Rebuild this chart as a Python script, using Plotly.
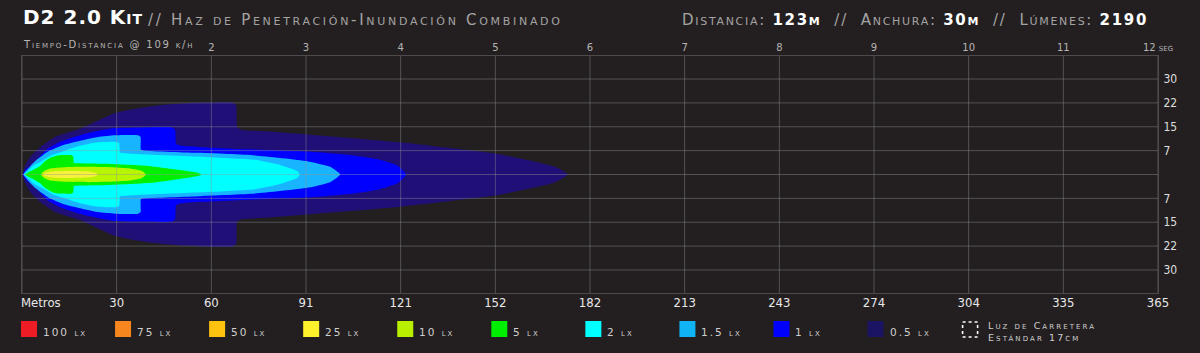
import plotly.graph_objects as go

# ---------------- canvas ----------------
W, H = 1200, 353
ML, MR, MT, MB = 22, 42, 56, 60
PW, PH = W - ML - MR, H - MT - MB

# ---------------- data ----------------
X_MAX = 365          # metres shown on the bottom axis
Y_HALF = 37.25       # lateral half-range in metres

distance_labels = ['30', '60', '91', '121', '152', '182', '213', '243', '274', '304', '335', '365']
time_values = [2, 3, 4, 5, 6, 7, 8, 9, 10, 11, 12]
time_labels = ['2', '3', '4', '5', '6', '7', '8', '9', '10', '11', '12 seg']
time_max = 12
lateral_values = [30, 22.5, 15, 7.5, 0, -7.5, -15, -22.5, -30]
lateral_labels = ['30', '22', '15', '7', '', '7', '15', '22', '30']

# isolux outlines: distance (m) and half width (m)
lux05_dist = [0.2, 1.0, 2.6, 5.8, 10.6, 19.3, 29.9, 37.9, 45.9, 57.2, 67.5, 68.8, 69.1, 70.4, 79.7, 91.6, 105.4, 121.5, 137.5, 152.0, 164.2, 171.3, 175.4]
lux05_half = [0.0, 2.7, 5.5, 8.6, 11.8, 14.6, 19.3, 20.9, 21.9, 22.6, 22.7, 21.8, 14.9, 14.1, 13.5, 12.6, 11.5, 10.1, 8.3, 6.6, 4.2, 2.4, 0.0]

lux1_dist = [0.3, 1.3, 3.1, 5.8, 8.5, 12.9, 19.2, 25.1, 29.9, 37.9, 48.2, 49.2, 49.5, 50.8, 57.2, 73.3, 91.6, 105.4, 115.0, 120.8, 123.4]
lux1_half = [0.0, 1.7, 3.1, 5.8, 8.3, 10.5, 12.5, 13.8, 14.6, 14.8, 14.8, 14.0, 9.7, 9.1, 8.6, 7.9, 7.2, 6.1, 4.6, 2.7, 0.0]

lux15_dist = [0.5, 1.5, 4.2, 8.4, 13.8, 24.4, 29.9, 37.3, 38.1, 38.2, 39.5, 57.2, 74.9, 91.6, 99.0, 102.2]
lux15_half = [0.0, 1.4, 4.2, 7.2, 9.4, 11.8, 12.3, 12.3, 11.8, 7.8, 7.5, 6.8, 6.0, 4.2, 2.4, 0.0]

lux2_dist = [0.6, 1.9, 3.5, 6.3, 9.6, 13.8, 18.6, 24.4, 30.2, 31.2, 31.5, 32.8, 57.2, 74.9, 82.9, 88.4, 89.3]
lux2_half = [0.0, 1.1, 2.7, 4.2, 6.1, 7.5, 9.0, 10.1, 10.3, 9.9, 6.9, 6.7, 5.6, 4.6, 3.0, 1.1, 0.0]

lux5_dist = [1.0, 2.2, 3.5, 5.8, 7.4, 9.6, 11.6, 16.1, 16.5, 16.7, 18.0, 28.3, 40.5, 50.8, 56.5, 57.8]
lux5_half = [0.0, 0.8, 1.4, 2.7, 4.2, 5.5, 6.0, 6.0, 5.5, 3.6, 3.5, 3.3, 2.7, 1.4, 0.5, 0.0]

lux10_dist = [6.1, 7.1, 9.0, 13.8, 21.8, 29.9, 34.7, 38.6, 39.8]
lux10_half = [0.0, 1.1, 1.9, 2.3, 2.4, 2.2, 1.9, 1.1, 0.0]

lux25_dist = [6.7, 7.7, 10.6, 17.0, 21.8, 23.8, 24.3]
lux25_half = [0.0, 0.6, 1.0, 1.1, 0.9, 0.5, 0.0]

beam_levels = [
    ('0.5 lx', lux05_dist, lux05_half, '#1f0f76'),
    ('1 lx', lux1_dist, lux1_half, '#0000ff'),
    ('1.5 lx', lux15_dist, lux15_half, '#18b4ff'),
    ('2 lx', lux2_dist, lux2_half, '#00ffff'),
    ('5 lx', lux5_dist, lux5_half, '#00f000'),
    ('10 lx', lux10_dist, lux10_half, '#b8f500'),
    ('25 lx', lux25_dist, lux25_half, '#f6f23c'),
]

legend_labels = ['100 lx', '75 lx', '50 lx', '25 lx', '10 lx', '5 lx', '2 lx', '1.5 lx', '1 lx', '0.5 lx']
legend_colors = ['#ee1c25', '#f7861f', '#ffc30f', '#fff22d', '#b8f000', '#00ee00', '#00ffff', '#10b4f4', '#0000ff', '#1b1464']
road_label = 'Luz de Carretera<br>Estándar 17cm'

# ---------------- styles ----------------
BG = '#231f20'
GRID = 'rgba(150,150,150,0.42)'
WIDE = 'DejaVu Sans, Verdana, sans-serif'
NARROW = 'Liberation Sans Narrow, DejaVu Sans Condensed, Roboto Condensed, Arial Narrow, sans-serif'


def px_x(px):
    return (px - ML) / PW


def px_y(py):
    return (H - MB - py) / PH


fig = go.Figure()

for name, d, h, col in beam_levels:
    # upper edge from the far tip back to the nose, then the lower edge out again
    xs = list(d[::-1]) + list(d[1:])
    ys = list(h[::-1]) + [-v for v in h[1:]]
    fig.add_trace(go.Scatter(
        x=xs, y=ys, mode='lines', fill='toself', fillcolor=col,
        line=dict(width=0, color=col, shape='spline', smoothing=0.5),
        name=name, showlegend=False, hoverinfo='skip'))

# invisible trace so the top (time) axis is drawn
fig.add_trace(go.Scatter(x=[time_values[0]], y=[0], xaxis='x2', mode='markers',
                         marker=dict(opacity=0), showlegend=False, hoverinfo='skip'))

shapes = []
step = X_MAX / len(distance_labels)
for k in range(len(distance_labels) + 1):
    shapes.append(dict(type='line', xref='x', yref='paper', x0=k * step, x1=k * step, y0=0, y1=1,
                       line=dict(color=GRID, width=1), layer='above'))
for v in lateral_values:
    shapes.append(dict(type='line', xref='paper', yref='y', x0=0, x1=1, y0=v, y1=v,
                       line=dict(color=GRID, width=1), layer='above'))

annotations = []
# legend
SQ = 16
SQ_TOP, SQ_BOT = 321, 337
for i, (lab, col) in enumerate(zip(legend_labels, legend_colors)):
    left = 21 + 94.06 * i
    shapes.append(dict(type='rect', xref='paper', yref='paper',
                       x0=px_x(left), x1=px_x(left + SQ), y0=px_y(SQ_BOT), y1=px_y(SQ_TOP),
                       fillcolor=col, line=dict(width=0)))
    annotations.append(dict(text=f"<span style='letter-spacing:2px'>{lab}</span>",
                            xref='paper', yref='paper', x=px_x(left + SQ + 4), y=px_y(332),
                            xanchor='left', yanchor='middle', showarrow=False,
                            font=dict(family=WIDE, size=10.5, color='#cfcfcf', variant='small-caps')))
left = 21 + 94.06 * len(legend_labels)
shapes.append(dict(type='rect', xref='paper', yref='paper',
                   x0=px_x(left + 1), x1=px_x(left + SQ), y0=px_y(SQ_BOT), y1=px_y(SQ_TOP + 1),
                   fillcolor='rgba(0,0,0,0)', line=dict(width=1.6, color='#ffffff', dash='dot')))
annotations.append(dict(text=f"<span style='letter-spacing:2.1px'>{road_label}</span>",
                        xref='paper', yref='paper', x=px_x(left + SQ + 8), y=px_y(331),
                        xanchor='left', yanchor='middle', showarrow=False, align='left',
                        font=dict(family=WIDE, size=9.5, color='#cfcfcf', variant='small-caps')))

# header
annotations.append(dict(text="<b><span style='letter-spacing:1px'>D2 2.0 Kit</span></b>",
                        xref='paper', yref='paper', x=px_x(21), y=px_y(17), xanchor='left', yanchor='middle',
                        showarrow=False, font=dict(family=WIDE, size=20, color='#ffffff', variant='small-caps')))
annotations.append(dict(text="<span style='letter-spacing:2.7px'>// Haz de Penetración-Inundación Combinado</span>",
                        xref='paper', yref='paper', x=px_x(146), y=px_y(20), xanchor='left', yanchor='middle',
                        showarrow=False, font=dict(family=WIDE, size=15, color='#a3a3a3', variant='small-caps')))
annotations.append(dict(
    text=("<span style='letter-spacing:1.7px'>Distancia: <b><span style='color:#ffffff'>123m</span></b>"
          "  //  Anchura: <b><span style='color:#ffffff'>30m</span></b>"
          "  //  Lúmenes: <b><span style='color:#ffffff'>2190</span></b></span>"),
    xref='paper', yref='paper', x=px_x(1150), y=px_y(20), xanchor='right', yanchor='middle',
    showarrow=False, font=dict(family=WIDE, size=15, color='#a3a3a3', variant='small-caps')))
annotations.append(dict(text="<span style='letter-spacing:1.8px'>Tiempo-Distancia @ 109 k/h</span>",
                        xref='paper', yref='paper', x=px_x(21), y=px_y(45), xanchor='left', yanchor='middle',
                        showarrow=False, font=dict(family=WIDE, size=10, color='#b5b5b5', variant='small-caps')))
annotations.append(dict(text='Metros', xref='paper', yref='paper', x=px_x(19), y=px_y(302),
                        xanchor='left', yanchor='middle', showarrow=False,
                        font=dict(family=NARROW, size=13, color='#e8e8e8')))

fig.update_layout(
    width=W, height=H, margin=dict(l=ML, r=MR, t=MT, b=MB, pad=0),
    paper_bgcolor=BG, plot_bgcolor=BG, showlegend=False,
    xaxis=dict(range=[0, X_MAX], tickvals=[step * (k + 1) for k in range(len(distance_labels))],
               ticktext=distance_labels, showgrid=False, zeroline=False, showline=True, mirror=True,
               linecolor='#4e4a4b', linewidth=1, ticks='', ticklabelstandoff=-3,
               tickfont=dict(family=NARROW, size=13, color='#e8e8e8'), fixedrange=True),
    xaxis2=dict(range=[0, time_max], overlaying='x', side='top', anchor='y', tickvals=time_values,
                ticktext=time_labels, showgrid=False, zeroline=False, showline=False, ticks='',
                ticklabelstandoff=2, tickfont=dict(family=WIDE, size=10, color='#b5b5b5', variant='small-caps')),
    yaxis=dict(range=[-Y_HALF, Y_HALF], side='right', tickvals=lateral_values, ticktext=lateral_labels,
               showgrid=False, zeroline=False, showline=True, mirror=True, linecolor='#4e4a4b', linewidth=1,
               ticks='', ticklabelstandoff=2, tickfont=dict(family=NARROW, size=12, color='#dedede'),
               fixedrange=True),
    shapes=shapes, annotations=annotations,
)

fig.write_html('out.html', config={'displayModeBar': False})
